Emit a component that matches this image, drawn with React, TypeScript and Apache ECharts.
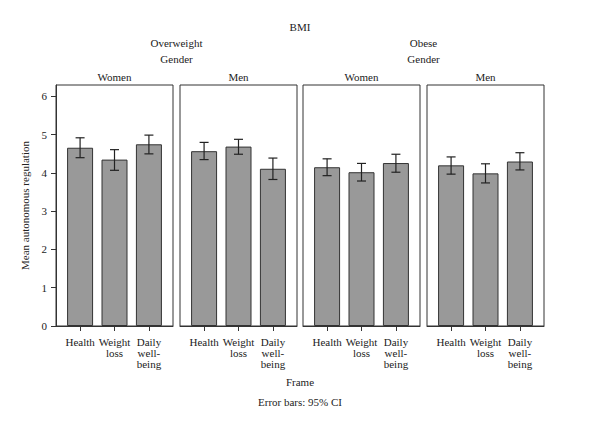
import React, { useEffect, useRef } from "react";
import * as echarts from "echarts";

const frames = ["Health", "Weight\nloss", "Daily\nwell-\nbeing"];
const bmiGroups = ["Overweight", "Obese"];
const genders = ["Women", "Men"];
const yTicks = [0, 1, 2, 3, 4, 5, 6];

// panel order: Overweight-Women, Overweight-Men, Obese-Women, Obese-Men
const owWomenMean = [4.66, 4.35, 4.75];
const owWomenLow = [4.4, 4.07, 4.5];
const owWomenHigh = [4.92, 4.61, 4.99];

const owMenMean = [4.57, 4.69, 4.11];
const owMenLow = [4.35, 4.49, 3.83];
const owMenHigh = [4.8, 4.88, 4.39];

const obWomenMean = [4.15, 4.02, 4.26];
const obWomenLow = [3.93, 3.79, 4.02];
const obWomenHigh = [4.37, 4.25, 4.49];

const obMenMean = [4.2, 3.99, 4.3];
const obMenLow = [3.97, 3.74, 4.08];
const obMenHigh = [4.42, 4.24, 4.53];

const FONT = "Liberation Serif";
const TEXT = "#222";

export default function App() {
  const ref = useRef<HTMLDivElement>(null);
  useEffect(() => {
    if (!ref.current) return;
    const chart = echarts.init(ref.current, null, { renderer: "svg" });
    const panels = [
      { mean: owWomenMean, low: owWomenLow, high: owWomenHigh },
      { mean: owMenMean, low: owMenLow, high: owMenHigh },
      { mean: obWomenMean, low: obWomenLow, high: obWomenHigh },
      { mean: obMenMean, low: obMenLow, high: obMenHigh },
    ];
    const lefts = [56, 180, 303, 427];
    const pw = 117;
    const top = 85;
    const height = 241;
    const grids: any[] = [];
    const xAxes: any[] = [];
    const yAxes: any[] = [];
    const series: any[] = [];
    panels.forEach((p, i) => {
      grids.push({
        left: lefts[i],
        top,
        width: pw,
        height,
        show: true,
        borderColor: "#333",
        borderWidth: 1,
        backgroundColor: "transparent",
      });
      xAxes.push({
        type: "value",
        gridIndex: i,
        min: -0.7,
        max: 2.7,
        splitLine: { show: false },
        axisLine: { show: true, onZero: false, lineStyle: { color: "#333" } },
        axisTick: {
          show: true,
          inside: false,
          length: 5,
          customValues: [0, 1, 2],
          lineStyle: { color: "#333" },
        },
        axisLabel: {
          customValues: [0, 1, 2],
          formatter: (v: number) => frames[Math.round(v)] ?? "",
          fontFamily: FONT,
          fontSize: 11,
          lineHeight: 11,
          color: TEXT,
          margin: 10,
        },
      });
      yAxes.push({
        type: "value",
        gridIndex: i,
        min: 0,
        max: 6.3,
        splitLine: { show: false },
        axisLine: { show: i === 0, onZero: false, lineStyle: { color: "#333" } },
        axisTick: {
          show: i === 0,
          length: 5,
          customValues: yTicks,
          lineStyle: { color: "#333" },
        },
        axisLabel: {
          show: i === 0,
          customValues: yTicks,
          fontFamily: FONT,
          fontSize: 11,
          color: TEXT,
          margin: 9,
        },
        name: i === 0 ? "Mean autonomous regulation" : "",
        nameLocation: "middle",
        nameGap: 26,
        nameTextStyle: { fontFamily: FONT, fontSize: 11, color: TEXT },
      });
      series.push({
        type: "bar",
        xAxisIndex: i,
        yAxisIndex: i,
        barWidth: 26,
        data: p.mean.map((v, k) => [k, v]),
        itemStyle: { color: "#999999", borderColor: "#333", borderWidth: 1 },
      });
      series.push({
        type: "custom",
        xAxisIndex: i,
        yAxisIndex: i,
        data: p.mean.map((_, k) => [k, p.low[k], p.high[k]]),
        renderItem: (params: any, api: any) => {
          const x = api.value(0);
          const lo = api.coord([x, api.value(1)]);
          const hi = api.coord([x, api.value(2)]);
          const hw = 4.5;
          const st = { stroke: "#222", lineWidth: 1.2 };
          return {
            type: "group",
            children: [
              { type: "line", shape: { x1: lo[0], y1: lo[1], x2: hi[0], y2: hi[1] }, style: st },
              { type: "line", shape: { x1: lo[0] - hw, y1: lo[1], x2: lo[0] + hw, y2: lo[1] }, style: st },
              { type: "line", shape: { x1: hi[0] - hw, y1: hi[1], x2: hi[0] + hw, y2: hi[1] }, style: st },
            ],
          };
        },
        z: 5,
      });
    });

    const txt = (text: string, x: number, y: number) => ({
      type: "text",
      x,
      y,
      style: {
        text,
        fontFamily: FONT,
        fontSize: 11,
        fill: TEXT,
        textAlign: "center",
        textVerticalAlign: "middle",
        verticalAlign: "middle",
      },
    });
    const graphics: any[] = [txt("BMI", 300, 27)];
    bmiGroups.forEach((g, gi) => {
      const cx = (lefts[gi * 2] + lefts[gi * 2 + 1] + pw) / 2;
      graphics.push(txt(g, cx, 43));
      graphics.push(txt("Gender", cx, 59));
      genders.forEach((s, si) => {
        graphics.push(txt(s, lefts[gi * 2 + si] + pw / 2, 77));
      });
    });
    graphics.push(txt("Frame", 300, 382));
    graphics.push(txt("Error bars: 95% CI", 300, 402));

    chart.setOption({
      animation: false,
      backgroundColor: "#fff",
      grid: grids,
      xAxis: xAxes,
      yAxis: yAxes,
      series,
      graphic: graphics,
    });
    return () => chart.dispose();
  }, []);
  return <div ref={ref} style={{ width: 600, height: 428, position: "absolute", left: 0, top: 0 }} />;
}
